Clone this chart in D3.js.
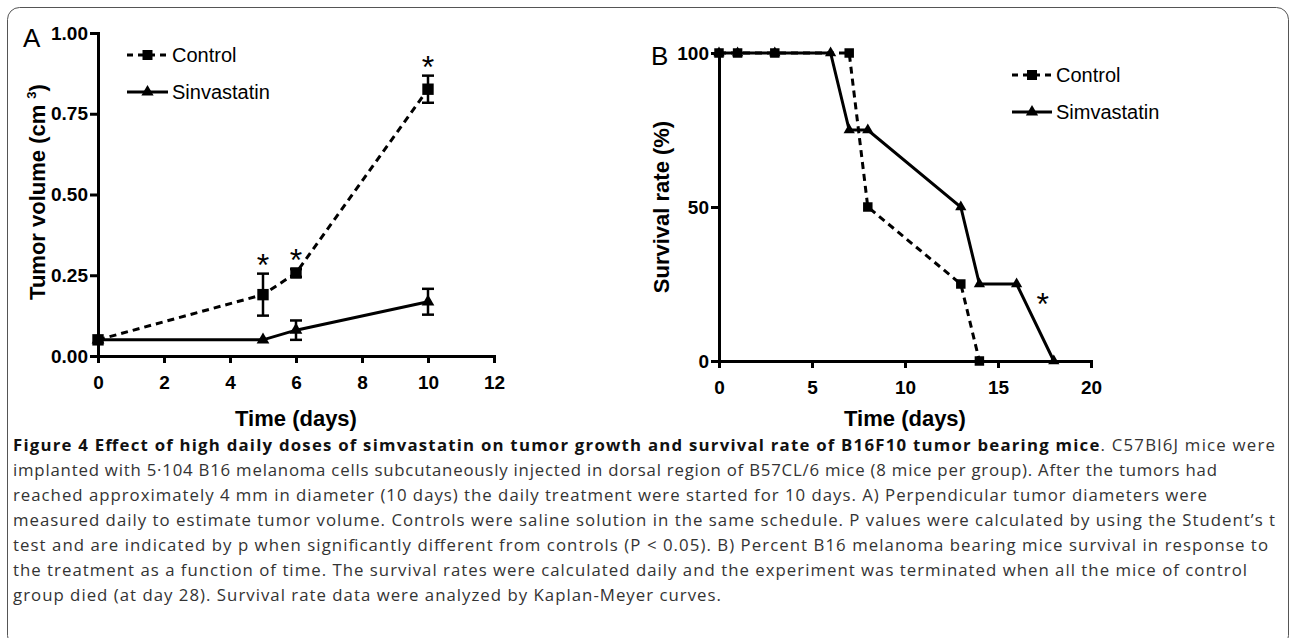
<!DOCTYPE html>
<html>
<head>
<meta charset="utf-8">
<script src="https://cdn.jsdelivr.net/npm/d3@7"></script>
<style>
body { margin: 0; background: #fff; }
svg text { font-family: "Liberation Sans", Arial, sans-serif; }
.caption { font-family: "Open Sans", "Noto Sans", sans-serif; }
</style>
</head>
<body>
<div id="chart-area"></div>
<script>
// panel A: tumor volume
var tumorDays = [0, 5, 6, 10];
var tumorControl = [0.05, 0.19, 0.257, 0.826];
var tumorControlErr = [0, 0.065, 0.012, 0.042];
var tumorSim = [0.05, 0.05, 0.08, 0.168];
var tumorSimErr = [0, 0, 0.03, 0.04];
var tumorStarDays = [5, 6, 10];
var tumorXTicks = [0, 2, 4, 6, 8, 10, 12];
var tumorYTicks = [0, 0.25, 0.5, 0.75, 1];

// panel B: survival
var survControlDays = [0, 1, 3, 7, 8, 13, 14];
var survControl = [100, 100, 100, 100, 50, 25, 0];
var survSimDays = [0, 1, 3, 6, 7, 8, 13, 14, 16, 18];
var survSim = [100, 100, 100, 100, 75, 75, 50, 25, 25, 0];
var survStarDay = [17.4];
var survStarPct = [20];
var survXTicks = [0, 5, 10, 15, 20];
var survYTicks = [0, 50, 100];

var captionBold = "Figure 4 Effect of high daily doses of simvastatin on tumor growth and survival rate of B16F10 tumor bearing mice";
var captionLines = [
    ". C57Bl6J mice were",
    "implanted with 5\u00b7104 B16 melanoma cells subcutaneously injected in dorsal region of B57CL/6 mice (8 mice per group). After the tumors had",
    "reached approximately 4 mm in diameter (10 days) the daily treatment were started for 10 days. A) Perpendicular tumor diameters were",
    "measured daily to estimate tumor volume. Controls were saline solution in the same schedule. P values were calculated by using the Student\u2019s t",
    "test and are indicated by p when significantly different from controls (P < 0.05). B) Percent B16 melanoma bearing mice survival in response to",
    "the treatment as a function of time. The survival rates were calculated daily and the experiment was terminated when all the mice of control",
    "group died (at day 28). Survival rate data were analyzed by Kaplan-Meyer curves."
];
var captionEnds = [1275, 1217, 1207, 1275, 1268, 1247, 721];

var W = 1290, H = 638;

var svg = d3.select("#chart-area")
    .append("svg")
    .attr("width", W)
    .attr("height", H);

svg.append("rect")
    .attr("x", 7.5).attr("y", 7.5)
    .attr("width", 1281).attr("height", 640)
    .attr("rx", 12)
    .attr("fill", "#fff")
    .attr("stroke", "#555")
    .attr("stroke-width", 1);

function styleAxis(g) {
    g.select(".domain").attr("stroke", "#000").attr("stroke-width", 3).attr("stroke-linecap", "square");
    g.selectAll(".tick line").attr("stroke", "#000").attr("stroke-width", 3);
    g.selectAll(".tick text")
        .attr("fill", "#000")
        .attr("font-size", "19px")
        .attr("font-weight", "bold")
        .attr("font-family", "Liberation Sans, Arial, sans-serif");
}

function drawPanel(opts) {
    var g = svg.append("g");
    var x = opts.x, y = opts.y;

    var xAxis = g.append("g")
        .attr("transform", "translate(0," + y.range()[0] + ")")
        .call(d3.axisBottom(x).tickValues(opts.xTicks).tickSize(7).tickSizeOuter(0).tickPadding(13).tickFormat(opts.xFmt));
    styleAxis(xAxis);

    var yAxis = g.append("g")
        .attr("transform", "translate(" + x.range()[0] + ",0)")
        .call(d3.axisLeft(y).tickValues(opts.yTicks).tickSize(8).tickSizeOuter(0).tickPadding(2).tickFormat(opts.yFmt));
    styleAxis(yAxis);

    g.append("text")
        .attr("x", (x.range()[0] + x.range()[1]) / 2)
        .attr("y", opts.xTitleY)
        .attr("text-anchor", "middle")
        .attr("font-size", "22px")
        .attr("font-weight", "bold")
        .text("Time (days)");

    return g;
}

function drawSeries(g, x, y, days, vals, errs, dashed, symbol, size) {
    var pts = days.map(function(d, i) {
        return { d: d, v: vals[i], e: errs ? errs[i] : 0 };
    });
    var line = d3.line()
        .x(function(p) { return x(p.d); })
        .y(function(p) { return y(p.v); });
    g.append("path")
        .datum(pts)
        .attr("d", line)
        .attr("fill", "none")
        .attr("stroke", "#000")
        .attr("stroke-width", 3)
        .attr("stroke-dasharray", dashed ? "7,5" : null);

    var eb = g.selectAll(null)
        .data(pts.filter(function(p) { return p.e > 0; }))
        .enter().append("g");
    eb.append("line")
        .attr("x1", function(p) { return x(p.d); })
        .attr("x2", function(p) { return x(p.d); })
        .attr("y1", function(p) { return y(p.v - p.e); })
        .attr("y2", function(p) { return y(p.v + p.e); })
        .attr("stroke", "#000").attr("stroke-width", 2.5);
    [-1, 1].forEach(function(s) {
        eb.append("line")
            .attr("x1", function(p) { return x(p.d) - 6; })
            .attr("x2", function(p) { return x(p.d) + 6; })
            .attr("y1", function(p) { return y(p.v + s * p.e); })
            .attr("y2", function(p) { return y(p.v + s * p.e); })
            .attr("stroke", "#000").attr("stroke-width", 2.5);
    });

    g.selectAll(null)
        .data(pts)
        .enter().append("path")
        .attr("transform", function(p) { return "translate(" + x(p.d) + "," + y(p.v) + ")"; })
        .attr("d", d3.symbol(symbol, size))
        .attr("fill", "#000");
}

function drawLegend(g, x0, x1, rows) {
    rows.forEach(function(r) {
        g.append("line")
            .attr("x1", x0).attr("x2", x1)
            .attr("y1", r.y).attr("y2", r.y)
            .attr("stroke", "#000").attr("stroke-width", 3)
            .attr("stroke-dasharray", r.dashed ? "6,5" : null);
        g.append("path")
            .attr("transform", "translate(" + ((x0 + x1) / 2) + "," + r.y + ")")
            .attr("d", d3.symbol(r.symbol, r.size))
            .attr("fill", "#000");
        g.append("text")
            .attr("x", x1 + 4)
            .attr("y", r.y + 7)
            .attr("font-size", "20px")
            .text(r.label);
    });
}

// ---- panel A
var xA = d3.scaleLinear().domain([0, 12]).range([98, 494]);
var yA = d3.scaleLinear().domain([0, 1]).range([356, 33]);
var gA = drawPanel({
    x: xA, y: yA, xTicks: tumorXTicks, yTicks: tumorYTicks,
    xFmt: d3.format("d"), yFmt: d3.format(".2f"), xTitleY: 426
});
gA.append("text")
    .attr("transform", "translate(45,192) rotate(-90)")
    .attr("text-anchor", "middle")
    .attr("font-size", "22px")
    .attr("font-weight", "bold")
    .text("Tumor volume (cm ")
    .append("tspan").attr("dy", -9).attr("font-size", "13px").text("3")
    .select(function() { return this.parentNode; })
    .append("tspan").attr("dy", 9).text(")");
gA.append("text").attr("x", 23).attr("y", 47).attr("font-size", "26px").text("A");

drawSeries(gA, xA, yA, tumorDays, tumorSim, tumorSimErr, false, d3.symbolTriangle, 70);
drawSeries(gA, xA, yA, tumorDays, tumorControl, tumorControlErr, true, d3.symbolSquare, 130);

gA.selectAll(null)
    .data(tumorStarDays)
    .enter().append("text")
    .attr("x", function(d) { return xA(d); })
    .attr("y", function(d) {
        var i = tumorDays.indexOf(d);
        return yA(tumorControl[i] + tumorControlErr[i]) + 2;
    })
    .attr("text-anchor", "middle")
    .attr("font-size", "32px")
    .text("*");

drawLegend(gA, 127, 168, [
    { y: 55, dashed: true, symbol: d3.symbolSquare, size: 100, label: "Control" },
    { y: 92, dashed: false, symbol: d3.symbolTriangle, size: 65, label: "Sinvastatin" }
]);

// ---- panel B
var xB = d3.scaleLinear().domain([0, 20]).range([719, 1091]);
var yB = d3.scaleLinear().domain([0, 100]).range([361, 53]);
var gB = drawPanel({
    x: xB, y: yB, xTicks: survXTicks, yTicks: survYTicks,
    xFmt: d3.format("d"), yFmt: d3.format("d"), xTitleY: 426
});
gB.append("text")
    .attr("transform", "translate(669,207) rotate(-90)")
    .attr("text-anchor", "middle")
    .attr("font-size", "22px")
    .attr("font-weight", "bold")
    .text("Survival rate (%)");
gB.append("text").attr("x", 651).attr("y", 65).attr("font-size", "26px").text("B");

drawSeries(gB, xB, yB, survSimDays, survSim, null, false, d3.symbolTriangle, 55);
drawSeries(gB, xB, yB, survControlDays, survControl, null, true, d3.symbolSquare, 90);

gB.selectAll(null)
    .data(survStarDay)
    .enter().append("text")
    .attr("x", function(d) { return xB(d); })
    .attr("y", function(d, i) { return yB(survStarPct[i]) + 16; })
    .attr("text-anchor", "middle")
    .attr("font-size", "32px")
    .text("*");

drawLegend(gB, 1012, 1052, [
    { y: 75, dashed: true, symbol: d3.symbolSquare, size: 100, label: "Control" },
    { y: 112, dashed: false, symbol: d3.symbolTriangle, size: 65, label: "Simvastatin" }
]);

// ---- caption
var cap = svg.append("g").attr("class", "caption");
captionLines.forEach(function(t, i) {
    var tx = cap.append("text")
        .attr("class", "caption")
        .attr("x", 13)
        .attr("y", 450.5 + i * 25.1)
        .attr("font-size", "16.8px")
        .attr("fill", "#333")
        .attr("textLength", captionEnds[i] - 13);
    if (i === 0) {
        tx.append("tspan").attr("font-weight", "bold").attr("fill", "#111").text(captionBold);
    }
    tx.append("tspan").text(t);
});
</script>
</body>
</html>
